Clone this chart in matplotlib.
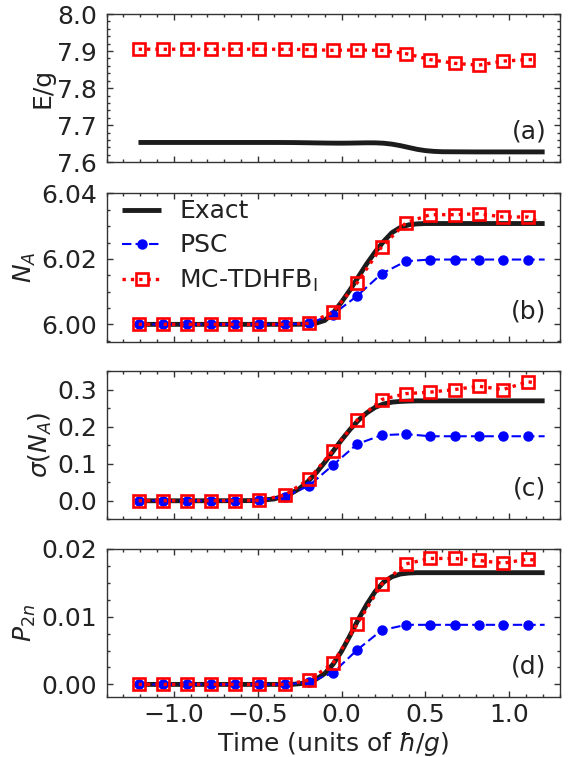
import matplotlib
matplotlib.use("Agg")
import matplotlib.pyplot as plt
from matplotlib.ticker import MultipleLocator, FormatStrFormatter

plt.rcParams['font.family'] = ['DejaVu Sans']
plt.rcParams['mathtext.fontset'] = 'dejavusans'

# ---- data ----
t_marks = [-1.209, -1.065, -0.922, -0.778, -0.635, -0.491, -0.339, -0.196, -0.052,
           0.093, 0.239, 0.385, 0.528, 0.674, 0.817, 0.963, 1.109]
t_psc_end = 1.21
t_mc_end = 1.16

t_exact = [-1.21, -0.8, -0.5, -0.4, -0.3, -0.25, -0.2, -0.15, -0.1, -0.05, 0.0, 0.05,
           0.1, 0.15, 0.2, 0.25, 0.3, 0.35, 0.4, 0.45, 0.5, 0.55, 0.6, 0.8, 1.0, 1.21]

E_exact = [7.6535, 7.6535, 7.6535, 7.6535, 7.6533, 7.6530, 7.6527, 7.6523, 7.6520, 7.6517,
           7.6516, 7.6518, 7.6522, 7.6526, 7.6525, 7.6515, 7.6490, 7.6450, 7.6400, 7.6350,
           7.6315, 7.6295, 7.6285, 7.6280, 7.6280, 7.6280]
E_mc = [7.905, 7.905, 7.905, 7.905, 7.905, 7.905, 7.905, 7.904, 7.902, 7.903, 7.902,
        7.893, 7.877, 7.867, 7.862, 7.873, 7.877]
E_mc_end = 7.877

N_exact = [6.0, 6.0, 6.0, 6.0, 6.0, 6.00003, 6.0001, 6.0004, 6.0012, 6.0035, 6.0068, 6.0105,
           6.0145, 6.0185, 6.0221, 6.0253, 6.0280, 6.0296, 6.0304, 6.0307, 6.0308, 6.0308,
           6.0308, 6.0308, 6.0308, 6.0308]
N_psc = [6.0, 6.0, 6.0, 6.0, 6.0, 6.0, 6.0, 6.0003, 6.0030, 6.0087, 6.0155, 6.0193,
         6.0198, 6.0198, 6.0198, 6.0198, 6.0198]
N_psc_end = 6.0198
N_mc = [6.0, 6.0, 6.0, 6.0, 6.0, 6.0, 6.0, 6.0003, 6.0037, 6.0127, 6.0237, 6.0311,
        6.0335, 6.0335, 6.0338, 6.0328, 6.0328]
N_mc_end = 6.0316

S_exact = [0.0, 0.0, 0.0005, 0.005, 0.020, 0.033, 0.052, 0.076, 0.104, 0.134, 0.164, 0.192,
           0.217, 0.237, 0.252, 0.261, 0.266, 0.268, 0.269, 0.2695, 0.2695, 0.2695,
           0.2695, 0.2695, 0.2695, 0.2695]
S_psc = [0.0, 0.0, 0.0, 0.0, 0.0, 0.001, 0.011, 0.040, 0.096, 0.153, 0.177, 0.1797,
         0.174, 0.174, 0.174, 0.174, 0.174]
S_psc_end = 0.174
S_mc = [0.0, 0.0, 0.0, 0.0, 0.0, 0.001, 0.015, 0.0575, 0.135, 0.2175, 0.273, 0.289,
        0.293, 0.300, 0.309, 0.300, 0.321]
S_mc_end = 0.318

P_exact = [0.0, 0.0, 0.0, 0.0, 0.0, 0.0001, 0.0003, 0.0008, 0.0016, 0.0030, 0.0049, 0.0072,
           0.0096, 0.0118, 0.0137, 0.0151, 0.0159, 0.0163, 0.01645, 0.0165, 0.0165, 0.0165,
           0.0165, 0.0165, 0.0165, 0.0165]
P_psc = [0.0, 0.0, 0.0, 0.0, 0.0, 0.0, 0.0, 0.0003, 0.0017, 0.0051, 0.0080, 0.0088,
         0.0088, 0.0088, 0.0088, 0.0088, 0.0088]
P_psc_end = 0.0088
P_mc = [0.0, 0.0, 0.0, 0.0, 0.0, 0.0, 0.0, 0.0006, 0.0031, 0.0089, 0.0148, 0.0178,
        0.0186, 0.0186, 0.0183, 0.0179, 0.0185]
P_mc_end = 0.0183

ylabels = ['E/g', '$N_A$', r'$\sigma(N_A)$', '$P_{2n}$']
panel_tags = ['(a)', '(b)', '(c)', '(d)']
ylims = [(7.6, 8.0), (5.9947, 6.04), (-0.05, 0.35), (-0.0019, 0.02)]
ymajor = [0.1, 0.02, 0.1, 0.01]
yminor = [0.02, 0.005, 0.05, 0.0025]
yfmt = ['%.1f', '%.2f', '%.1f', '%.2f']
legend_labels = ['Exact', 'PSC', r'MC-TDHFB$_\mathrm{I}$']

# ---- style ----
FS = 18
RED = '#ff0000'
BLUE = '#0000ff'
BLACK = '#1c1c1c'
SPINE = '#333333'

fig = plt.figure(figsize=(5.70, 7.57), dpi=100)
left, width = 0.187, 0.795
bottoms = [0.7856, 0.5486, 0.3140, 0.0789]
height = 0.1959

exact_sets = [E_exact, N_exact, S_exact, P_exact]
psc_sets = [None, (N_psc, N_psc_end), (S_psc, S_psc_end), (P_psc, P_psc_end)]
mc_sets = [(E_mc, E_mc_end), (N_mc, N_mc_end), (S_mc, S_mc_end), (P_mc, P_mc_end)]

axes = []
for i in range(4):
    ax = fig.add_axes([left, bottoms[i], width, height])
    axes.append(ax)
    l1, = ax.plot(t_exact, exact_sets[i], color=BLACK, lw=3.5, solid_capstyle='butt',
                  solid_joinstyle='round', label=legend_labels[0], zorder=2)
    handles = [l1]
    if psc_sets[i] is not None:
        vals, end = psc_sets[i]
        l2, = ax.plot(t_marks + [t_psc_end], vals + [end], color=BLUE, lw=1.5,
                      linestyle=(0, (4.5, 2.0)), marker='o', ms=6.5,
                      markevery=list(range(len(t_marks))), label=legend_labels[1], zorder=3)
        handles.append(l2)
    vals, end = mc_sets[i]
    l3, = ax.plot(t_marks + [t_mc_end], vals + [end], color=RED, lw=2.4,
                  linestyle=(0, (1.0, 1.5)), marker='s', ms=8.0, mew=1.9,
                  mfc='none', mec=RED, markevery=list(range(len(t_marks))),
                  label=legend_labels[2], zorder=4)
    handles.append(l3)

    ax.set_xlim(-1.40, 1.30)
    ax.set_ylim(*ylims[i])
    ax.xaxis.set_major_locator(MultipleLocator(0.5))
    ax.xaxis.set_minor_locator(MultipleLocator(0.1))
    ax.yaxis.set_major_locator(MultipleLocator(ymajor[i]))
    ax.yaxis.set_minor_locator(MultipleLocator(yminor[i]))
    ax.yaxis.set_major_formatter(FormatStrFormatter(yfmt[i]))
    ax.tick_params(which='both', direction='in', top=True, right=True, colors=SPINE,
                   labelcolor='#222222', width=1.0)
    ax.tick_params(which='major', length=4.0, labelsize=FS)
    ax.tick_params(which='minor', length=2.2)
    ax.tick_params(axis='y', pad=7)
    ax.tick_params(axis='x', pad=4)
    for s in ax.spines.values():
        s.set_color(SPINE)
        s.set_linewidth(1.0)
    ax.set_ylabel(ylabels[i], fontsize=FS, color='#222222', labelpad=2)
    ax.text(0.971, 0.205, panel_tags[i], transform=ax.transAxes, ha='right', va='center',
            fontsize=FS, color='#222222')
    if i < 3:
        ax.tick_params(axis='x', labelbottom=False)
    if i == 1:
        ax.legend(handles=handles, loc='upper left', bbox_to_anchor=(0.035, 0.96),
                  frameon=False, fontsize=FS, borderpad=0, borderaxespad=0,
                  handlelength=1.55, handletextpad=0.72, labelspacing=0.4,
                  labelcolor='#222222')

axes[3].set_xlabel(r'Time (units of $\hbar/g$)', fontsize=FS, color='#222222', labelpad=2)

fig.savefig('out.png', dpi=100)
